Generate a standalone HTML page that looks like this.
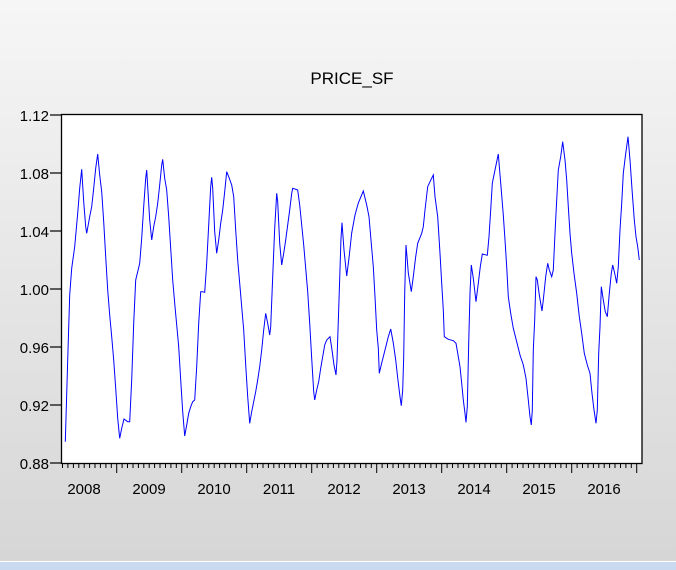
<!DOCTYPE html>
<html><head><style>
body{margin:0;width:676px;height:570px;overflow:hidden;background:linear-gradient(#f6f6f6,#d6d6d6 560px);font-family:"Liberation Sans",Arial,sans-serif}
</style></head><body>
<svg width="676" height="570" style="position:absolute;left:0;top:0">
<rect x="0" y="561" width="676" height="1" fill="#fff"/>
<rect x="0" y="562" width="676" height="8" fill="#c9d9ef"/>
<text x="352" y="84" font-size="17" text-anchor="middle" fill="#000">PRICE_SF</text>
<rect x="61.5" y="114.5" width="580.5" height="349" fill="#fff" stroke="#000" stroke-width="1.3"/>
<g font-size="15" text-anchor="end" fill="#000">
<text x="49" y="121">1.12</text><text x="49" y="179">1.08</text><text x="49" y="237">1.04</text><text x="49" y="295">1.00</text><text x="49" y="353">0.96</text><text x="49" y="411">0.92</text><text x="49" y="469">0.88</text>
</g>
<g stroke="#000" stroke-width="1.2">
<line x1="50" y1="115" x2="61" y2="115"/><line x1="50" y1="173" x2="61" y2="173"/><line x1="50" y1="231" x2="61" y2="231"/><line x1="50" y1="289" x2="61" y2="289"/><line x1="50" y1="347" x2="61" y2="347"/><line x1="50" y1="405" x2="61" y2="405"/><line x1="50" y1="463" x2="61" y2="463"/>
</g>
<g id="ticks" stroke="#000" stroke-width="1"></g>
<g font-size="15" text-anchor="middle" fill="#000">
<text x="84" y="494">2008</text><text x="149" y="494">2009</text><text x="214" y="494">2010</text><text x="279" y="494">2011</text><text x="344" y="494">2012</text><text x="409" y="494">2013</text><text x="474" y="494">2014</text><text x="539" y="494">2015</text><text x="604" y="494">2016</text>
</g>
<polyline fill="none" stroke="#0000ff" stroke-width="1" points="65.3,441.7 67.7,360 69.7,295 71.7,268.3 74.7,246.7 77.7,213.3 79.7,188.3 81.7,169.3 83.7,201.7 85.7,226.7 86.7,233.3 89.7,216.7 91.7,206.7 93.7,188.3 95.7,168.3 97.7,154 99.7,175 101.7,191.7 103.7,221.7 105.7,256.7 107.7,290 109.7,315 111.7,336.7 113.7,360 115.7,388.3 117.7,418.3 119.7,438.3 121.7,428.3 124,419 127.7,421.7 129.7,421.7 131.7,380 133.7,323.3 135.7,280 137.7,271.7 139.7,263.3 141.7,238.3 143.7,206.7 145.7,178.3 146.7,170 147.7,186.7 149.7,220 151.7,240 153.7,226.7 155.7,216.7 157.7,203.3 159.7,185 161.7,165 162.7,159.3 164.7,178.3 166.7,190 168.7,216.7 170.7,248.3 172.7,280 174.7,303.3 176.7,325 178.7,346.7 180.7,380 182.7,411.7 184.7,436 186.7,425 188.7,413.3 190.7,406.7 192.7,401.7 194.7,400 196.7,366.7 198.7,323.3 200.7,291.7 202.7,291.7 204.7,292.3 206.7,263.3 208.7,225 210.7,186.7 211.7,177.3 212.7,188.3 214.7,231.7 216.7,253.3 218.7,240 220.7,223.3 222.7,210 224.7,191.7 226.7,171.7 228.7,176.7 231.7,185 233.7,196.7 235.7,230 237.7,260 239.7,283.3 241.7,306.7 243.7,330 245.7,365 247.7,396.7 249.7,423.3 251.7,411.7 253.7,401.7 255.7,391.7 257.7,380 259.7,366.7 261.7,350 263.7,330 265.7,313.3 267.7,323.3 269.7,335 270.7,326.7 272.7,276.7 274.7,228.3 276.7,193.3 277.7,201.7 279.7,243.3 281.7,265 283.7,253.3 285.7,240 287.7,225 289.7,210 291.7,193.3 292.7,188.3 297.7,190 299.7,205 301.7,225 303.7,245 305.7,268.3 307.7,291.7 309.7,323.3 311.7,358.3 313.7,391.7 314.7,400 316.7,390 318.7,381.7 320.7,368.3 322.7,356.7 324.7,345 326.7,340 330,336.7 332,350 334,365 336,375 337,360 339,300 341,238.3 342,222.7 344,250 346.7,276 349,258 351.7,233 355,215 358.3,203 363.3,191 366.7,205 369,216.7 371,240 373.3,266.7 375,296.7 376.7,330 378.3,348 379.3,373.3 381.7,363 385,350 388.3,336.7 390.7,329 393.3,343 395.7,360 397.7,378 400,396.7 401.3,405.7 402.7,390 403.7,356.7 404.7,293.3 406,245 407,256.7 408.3,273 411.3,291.7 413.3,276.7 415.7,256.7 417.7,243.3 421.7,233.3 423.3,226.7 425,210 427.7,186.7 430,181.7 433.3,175 435,196.7 437.7,216.7 440,253.3 441.7,283.3 443.3,310 444.3,336.7 448.3,339.3 453.3,340.7 456,343.3 458.3,356.7 460,366.7 461.7,383.3 463.3,400 465,413.3 466,422.3 467.3,406.7 468.7,343.3 470,293.3 471.3,265 473.3,278.3 476,301.7 478.3,283.3 480.3,266.7 482.3,254 487.3,255.3 489,236.7 490.7,210 492.3,183.3 495,170 498.3,154 501,186.7 503.3,215 505,240 506.7,266.7 508.3,296.7 510.7,313.3 513.3,328.3 516.7,341.7 520,355 523.3,365 526,378.3 528.3,400 530,416.7 531.3,425 532.3,410 533.3,350 534.7,320 536,276.7 537.3,280 539.3,295 542,311 543.3,300 545.7,276.7 547.7,263.3 549.3,270 551.7,276.7 553.3,270 555,233.3 556.7,200 558.3,170 560.7,156.7 562.7,141.7 565,160 566.7,180 568.3,206.7 570,233.3 571.7,253.3 574,273.3 576.7,293.3 579.3,316.7 581.7,333.3 584.3,353.3 587.3,365 590,373.3 592,393.3 594,410 596,423.3 597.3,410 598.7,353.3 600,326.7 601.3,286.7 603.3,300 605.3,311.7 607.3,316.7 609.3,293.3 611.3,273.3 612.7,265 614.7,273.3 616.7,283.3 618.3,266.7 620,230 621.7,203.3 623.3,173.3 625.3,156.7 628,136.7 630,160 632.3,193.3 634.3,220 636,236.7 637.7,246.7 639.3,260"/>
</svg>
<script>
var g=document.getElementById('ticks'),s='';
for(var k=-10;k<=96;k++){var x=116.7+5.4167*k;if(x<61||x>642)continue;var maj=(k%12===0);
s+='<line x1="'+x.toFixed(1)+'" y1="464" x2="'+x.toFixed(1)+'" y2="'+(maj?473:468)+'"/>';}
g.innerHTML=s;
</script>
</body></html>
